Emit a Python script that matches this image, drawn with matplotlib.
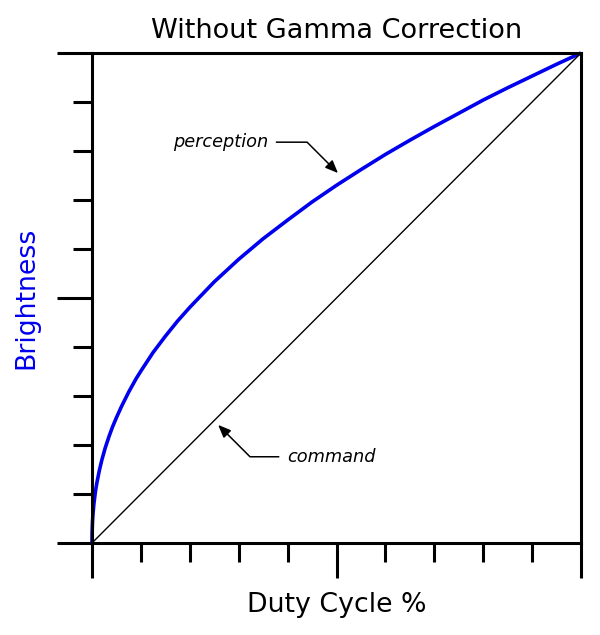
import numpy as np
import matplotlib
matplotlib.use("Agg")
import matplotlib.pyplot as plt
from matplotlib.ticker import MultipleLocator

# duty cycle (0..1) and perceived brightness
duty = [0, 0.0002, 0.001, 0.002, 0.004, 0.007, 0.01, 0.015, 0.02, 0.027, 0.035,
        0.042, 0.05, 0.06, 0.075, 0.09, 0.1, 0.125, 0.15, 0.175, 0.2, 0.25,
        0.3, 0.35, 0.4, 0.45, 0.5, 0.55, 0.6, 0.65, 0.7, 0.75, 0.8, 0.85,
        0.9, 0.95, 1.0]
perception = [0, 0.021, 0.043, 0.059, 0.081, 0.105, 0.123, 0.148, 0.169, 0.194,
              0.218, 0.237, 0.256, 0.278, 0.308, 0.335, 0.351, 0.389, 0.422,
              0.453, 0.481, 0.533, 0.579, 0.621, 0.659, 0.696, 0.730, 0.762,
              0.793, 0.822, 0.850, 0.877, 0.904, 0.929, 0.953, 0.977, 1.0]
command_x = [0, 1]
command_y = [0, 1]

plt.rcParams['font.family'] = ['DejaVu Sans']

fig = plt.figure(figsize=(6, 6.35), dpi=100)
ax = fig.add_axes([92 / 600, 92 / 635, 489 / 600, 490 / 635])

ax.plot(duty, perception, color='#0000ee', lw=2.6, solid_capstyle='butt',
        solid_joinstyle='round', clip_on=False)
ax.plot(command_x, command_y, color='black', lw=1.0, clip_on=False)

ax.set_xlim(0, 1)
ax.set_ylim(0, 1)

for side in ['left', 'right', 'top', 'bottom']:
    ax.spines[side].set_linewidth(2.2)

ax.xaxis.set_major_locator(MultipleLocator(0.5))
ax.xaxis.set_minor_locator(MultipleLocator(0.1))
ax.yaxis.set_major_locator(MultipleLocator(0.5))
ax.yaxis.set_minor_locator(MultipleLocator(0.1))
ax.tick_params(which='both', direction='out', width=2.2, color='black',
               labelbottom=False, labelleft=False)
ax.tick_params(which='major', length=25)
ax.tick_params(which='minor', length=13.5)

ax.set_title('Without Gamma Correction', fontsize=19.5, pad=11)
ax.set_xlabel('Duty Cycle %', fontsize=19.3, labelpad=10)
ax.set_ylabel('Brightness', fontsize=19.3, color='#0000ee', labelpad=13)

arrow = dict(arrowstyle='-|>,head_length=0.6,head_width=0.25', color='black',
             lw=1.1, shrinkA=4, shrinkB=0)

ax.annotate('perception', xy=(0.503, 0.755), xytext=(0.36, 0.818),
            ha='right', va='center', fontsize=12.8, style='italic',
            arrowprops=dict(arrow, connectionstyle='angle,angleA=0,angleB=135'))
ax.annotate('command', xy=(0.258, 0.241), xytext=(0.399, 0.176),
            ha='left', va='center', fontsize=12.8, style='italic',
            arrowprops=dict(arrow, connectionstyle='angle,angleA=0,angleB=-45'))

fig.savefig('out.png', dpi=100)
